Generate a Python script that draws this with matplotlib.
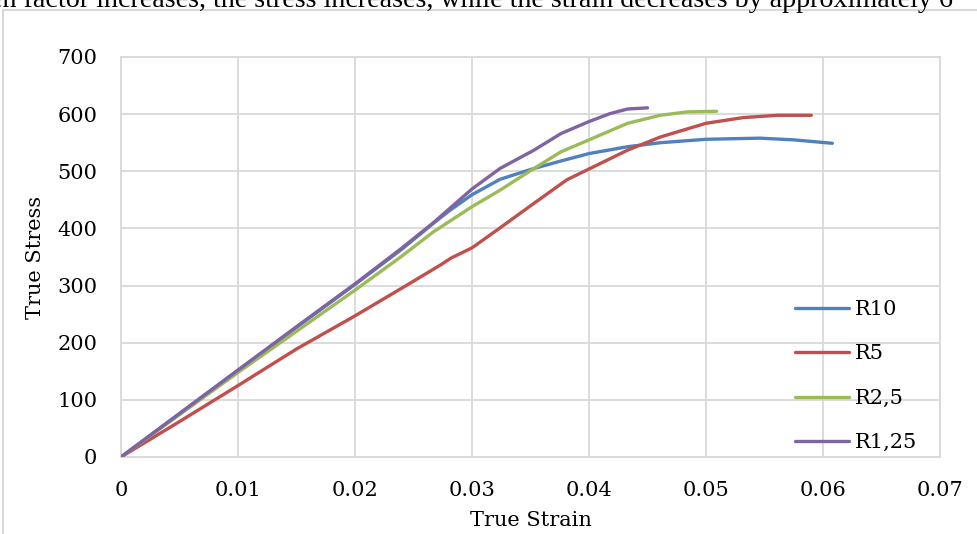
import matplotlib
matplotlib.use('Agg')
import matplotlib.pyplot as plt
from matplotlib.lines import Line2D

# ------------------------------------------------------------
#  DATA
# ------------------------------------------------------------
strain_r10 = [0, 0.005, 0.01, 0.015, 0.02, 0.0239, 0.0267, 0.028, 0.030, 0.0324,
              0.0353, 0.0376, 0.040, 0.0433, 0.0461, 0.050, 0.0546, 0.0575, 0.0608]
stress_r10 = [0, 76, 152, 227, 302, 362, 409, 430, 459, 486,
              505, 518, 531, 543, 550, 556, 558, 555, 549]

strain_r5 = [0, 0.005, 0.01, 0.015, 0.02, 0.0247, 0.0273, 0.0282, 0.030, 0.0324,
             0.0353, 0.0381, 0.041, 0.0433, 0.0461, 0.050, 0.0532, 0.0561, 0.059]
stress_r5 = [0, 62, 125, 189, 247, 304, 336, 348, 366, 401,
             444, 485, 514, 537, 560, 584, 594, 598, 598]

strain_r2_5 = [0, 0.005, 0.01, 0.015, 0.02, 0.0239, 0.0267, 0.030, 0.0324, 0.0353,
               0.0376, 0.040, 0.0433, 0.0461, 0.0484, 0.0509]
stress_r2_5 = [0, 74, 148, 220, 292, 350, 394, 438, 467, 505,
               534, 555, 584, 598, 604, 605]

strain_r1_25 = [0, 0.005, 0.01, 0.015, 0.02, 0.0239, 0.0267, 0.030, 0.0324, 0.0353,
                0.0376, 0.040, 0.0418, 0.0433, 0.0450]
stress_r1_25 = [0, 76, 152, 228, 303, 364, 410, 469, 505, 537,
                566, 587, 601, 609, 611]

series_labels = ['R10', 'R5', 'R2,5', 'R1,25']
series_colors = ['#4F81BD', '#C0504D', '#9BBB59', '#8064A2']

x_ticks = [0, 0.01, 0.02, 0.03, 0.04, 0.05, 0.06, 0.07]
x_tick_labels = ['0', '0.01', '0.02', '0.03', '0.04', '0.05', '0.06', '0.07']
y_ticks = [0, 100, 200, 300, 400, 500, 600, 700]

GRID = '#D9D9D9'
FONT = 'DejaVu Serif'
FS = 15

# ------------------------------------------------------------
#  PLOT
# ------------------------------------------------------------
fig = plt.figure(figsize=(9.77, 5.34), dpi=100)
ax = fig.add_axes([121 / 977, 77 / 534, (940 - 121) / 977, (457 - 57) / 534])

all_x = [strain_r10, strain_r5, strain_r2_5, strain_r1_25]
all_y = [stress_r10, stress_r5, stress_r2_5, stress_r1_25]
for xs, ys, lab, col in zip(all_x, all_y, series_labels, series_colors):
    ax.plot(xs, ys, color=col, lw=2.4, label=lab,
            solid_joinstyle='round', solid_capstyle='round', zorder=3)

ax.set_xlim(0, 0.07)
ax.set_ylim(0, 700)
ax.set_xticks(x_ticks)
ax.set_xticklabels(x_tick_labels)
ax.set_yticks(y_ticks)
ax.grid(True, color=GRID, lw=1.3, zorder=0)
ax.set_axisbelow(True)
for sp in ax.spines.values():
    sp.set_color(GRID)
    sp.set_linewidth(1.3)
ax.tick_params(length=0, labelsize=FS, colors='black')
ax.tick_params(axis='y', pad=17)
ax.tick_params(axis='x', pad=17)
for lbl in ax.get_xticklabels() + ax.get_yticklabels():
    lbl.set_fontfamily(FONT)

ax.set_xlabel('True Strain', fontsize=FS, fontfamily=FONT, labelpad=8)
ax.set_ylabel('True Stress', fontsize=FS, fontfamily=FONT, labelpad=9)

handles = [Line2D([], [], color=c, lw=2.4, solid_capstyle='round') for c in series_colors]
leg = ax.legend(handles, series_labels, loc='upper left',
                bbox_to_anchor=(795 / 977, 1 - 300 / 534), bbox_transform=fig.transFigure,
                frameon=False, handlelength=2.6, handletextpad=0.25,
                labelspacing=1.22, borderpad=0, borderaxespad=0,
                prop={'family': FONT, 'size': FS})

# outer chart border (only top and left visible in the crop)
fig.add_artist(Line2D([3 / 977, 3 / 977], [0, 1 - 10 / 534], color=GRID, lw=1.5,
                      transform=fig.transFigure))
fig.add_artist(Line2D([3 / 977, 1], [1 - 10 / 534, 1 - 10 / 534], color=GRID, lw=1.5,
                      transform=fig.transFigure))

# cut-off line of document text above the chart
fig.text(-10 / 977, 1 - 7 / 534,
         'en factor increases, the stress increases, while the strain decreases by approximately 6',
         fontsize=20.2, fontfamily='Liberation Serif', va='baseline', ha='left')

fig.savefig('out.png', dpi=100)
